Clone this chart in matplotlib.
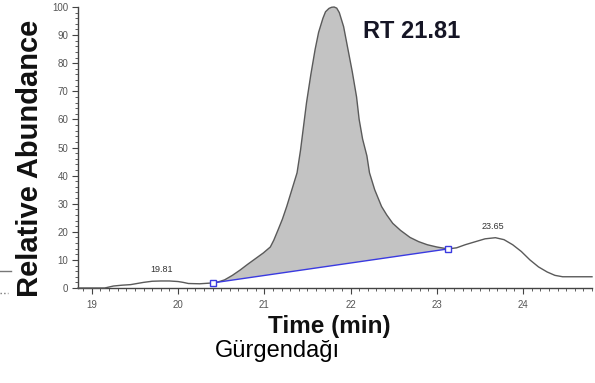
import matplotlib
matplotlib.use("Agg")
import matplotlib.pyplot as plt
from matplotlib.ticker import MultipleLocator

# ---- data ----
time_min = [18.84, 19.15, 19.25, 19.35, 19.45, 19.60, 19.70, 19.80, 19.90, 20.00,
            20.06, 20.12, 20.25, 20.40, 20.47, 20.54, 20.63, 20.72, 20.81, 20.90,
            20.99, 21.07, 21.11, 21.16, 21.21, 21.26, 21.32, 21.38, 21.42, 21.49,
            21.54, 21.59, 21.63, 21.68, 21.71, 21.75, 21.78, 21.81, 21.84, 21.87,
            21.92, 21.97, 22.02, 22.07, 22.10, 22.14, 22.19, 22.22, 22.28, 22.36,
            22.42, 22.49, 22.58, 22.69, 22.79, 22.89, 23.00, 23.13, 23.23, 23.33,
            23.45, 23.56, 23.68, 23.78, 23.88, 23.98, 24.08, 24.18, 24.28, 24.37,
            24.46, 24.60, 24.80]
abundance = [0.0, 0.0, 0.7, 1.0, 1.2, 2.0, 2.4, 2.5, 2.5, 2.3,
             2.0, 1.6, 1.5, 1.8, 2.2, 2.9, 4.5, 6.4, 8.5, 10.5,
             12.5, 14.6, 17.0, 20.7, 24.5, 29.0, 35.0, 41.0, 49.0, 66.0,
             76.0, 85.0, 91.0, 96.0, 98.3, 99.5, 99.9, 100.0, 99.6, 98.0,
             93.0, 85.0, 77.0, 68.0, 60.0, 53.0, 47.0, 41.0, 35.0, 29.0,
             26.0, 23.0, 20.5, 18.0, 16.5, 15.4, 14.6, 13.9, 14.3, 15.4,
             16.5, 17.5, 17.9, 17.2, 15.4, 13.0, 10.0, 7.5, 5.7, 4.5,
             4.0, 4.0, 4.0]
baseline_t = [20.40, 23.13]
baseline_y = [1.8, 13.9]
peak_labels = ["19.81", "23.65"]
peak_label_t = [19.81, 23.65]
peak_label_y = [2.5, 17.9]
rt_label = "RT 21.81"
x_ticks = [19, 20, 21, 22, 23, 24]
y_ticks = [0, 10, 20, 30, 40, 50, 60, 70, 80, 90, 100]
y_label = "Relative Abundance"
x_label = "Time (min)"
sample = "Gürgendağı"

W, H = 595, 383
fig = plt.figure(figsize=(W / 100, H / 100), dpi=100)
ax = fig.add_axes([78 / W, (H - 288) / H, (592 - 78) / W, (288 - 7) / H])

# filled peak area between curve and baseline
i0 = time_min.index(baseline_t[0])
i1 = time_min.index(baseline_t[1])
poly_t = time_min[i0:i1 + 1] + [baseline_t[1], baseline_t[0]]
poly_y = abundance[i0:i1 + 1] + [baseline_y[1], baseline_y[0]]
ax.fill(poly_t, poly_y, color="#c3c3c3", lw=0, zorder=1)

ax.plot(time_min, abundance, color="#5a5a5a", lw=1.0, zorder=3, clip_on=False,
        solid_joinstyle="round")
ax.plot(baseline_t, baseline_y, color="#3a3ae0", lw=1.0, zorder=4)
ax.plot(baseline_t, baseline_y, ls="none", marker="s", ms=5, mfc="white",
        mec="#3a3ae0", mew=1.0, zorder=5)

for lab, tx, ty in zip(peak_labels, peak_label_t, peak_label_y):
    ax.annotate(lab, (tx, ty), xytext=(0, 5), textcoords="offset points",
                ha="center", va="bottom", fontsize=6.5, color="#333333",
                family="Liberation Sans")

fig.text(412 / W, 1 - 32 / H, rt_label, ha="center", va="center",
         fontsize=17, fontweight="bold", color="#151525", family="Liberation Sans")

ax.set_xlim(18.84, 24.80)
ax.set_ylim(0, 100)
ax.set_xticks(x_ticks)
ax.set_yticks(y_ticks)
ax.xaxis.set_minor_locator(MultipleLocator(0.1))
ax.yaxis.set_minor_locator(MultipleLocator(2))
for s in ["top", "right"]:
    ax.spines[s].set_visible(False)
for s in ["left", "bottom"]:
    ax.spines[s].set_color("#444444")
    ax.spines[s].set_linewidth(1.0)
ax.tick_params(which="major", length=4, width=0.8, color="#444444",
               labelsize=7, labelcolor="#555555")
ax.tick_params(axis="x", which="major", pad=5)
ax.tick_params(axis="y", which="major", pad=3)
ax.tick_params(which="minor", length=2, width=0.6, color="#444444")
for lbl in ax.get_xticklabels() + ax.get_yticklabels():
    lbl.set_family("Liberation Sans")

fig.text(30 / W, 1 - 158 / H, y_label, rotation=90, ha="center", va="center",
         fontsize=21, fontweight="bold", color="#111111", family="Liberation Sans")
fig.text(329 / W, 1 - 333 / H, x_label, ha="center", va="baseline",
         fontsize=17.5, fontweight="bold", color="#111111", family="Liberation Sans")
fig.text(277 / W, 1 - 357 / H, sample, ha="center", va="baseline",
         fontsize=17, color="#000000", family="Liberation Sans")

# stray marks at the left edge of the reference crop
fig.add_artist(plt.Line2D([0, 11 / W], [1 - 271 / H, 1 - 271 / H], color="#777777", lw=1))
fig.add_artist(plt.Line2D([0, 8 / W], [1 - 293 / H, 1 - 293 / H], color="#777777", lw=1, ls=":"))

fig.savefig("out.png", dpi=100)
